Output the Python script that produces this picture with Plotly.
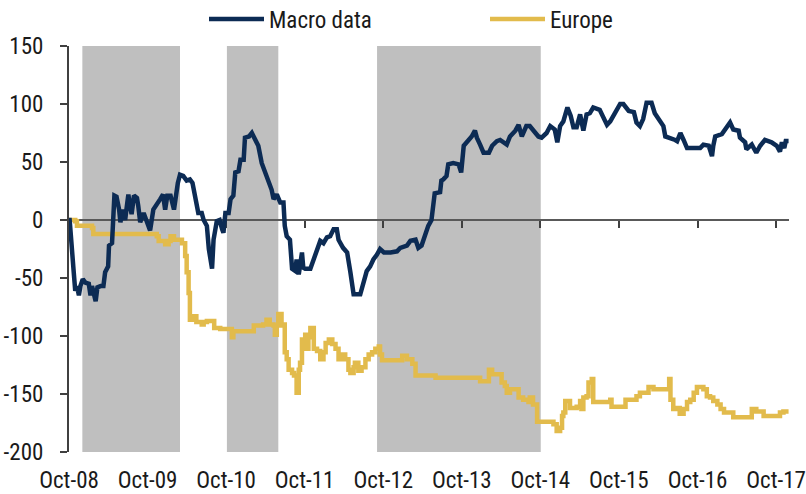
import plotly.graph_objects as go

# ---------------- data ----------------
macro_dates = [
 "2008-10-01","2008-10-04","2008-10-23","2008-10-30","2008-11-07","2008-11-16","2008-11-23","2008-12-04","2008-12-16",
 "2009-01-01","2009-01-09","2009-01-16","2009-02-02","2009-02-10","2009-02-25","2009-03-10","2009-03-18","2009-04-01",
 "2009-04-05","2009-04-19","2009-04-30","2009-05-10","2009-05-22","2009-05-28","2009-06-07","2009-06-19","2009-06-27",
 "2009-07-04","2009-07-12","2009-07-19","2009-07-30","2009-08-13","2009-08-19","2009-08-28","2009-09-13","2009-09-28",
 "2009-10-13","2009-10-28","2009-11-13","2009-11-29","2009-12-12","2009-12-22","2010-01-01","2010-01-16","2010-02-01",
 "2010-02-10","2010-02-19","2010-03-01","2010-03-16","2010-04-01","2010-04-16","2010-04-28","2010-05-10","2010-05-25",
 "2010-06-10","2010-06-19","2010-07-04","2010-07-13","2010-07-28","2010-08-04","2010-08-19","2010-09-01","2010-09-13",
 "2010-09-19","2010-09-28","2010-10-13","2010-10-22","2010-11-04","2010-11-13","2010-11-28","2010-12-07","2010-12-22",
 "2010-12-28","2011-01-16","2011-01-29","2011-02-14","2011-02-28","2011-03-16","2011-04-01","2011-04-16","2011-05-01",
 "2011-05-10","2011-05-25","2011-06-10","2011-06-25","2011-07-01","2011-07-10","2011-07-25","2011-08-04","2011-08-19",
 "2011-08-25","2011-09-04","2011-09-10","2011-09-19","2011-09-25","2011-10-04","2011-10-28","2011-11-13","2011-11-28",
 "2011-12-13","2011-12-28","2012-01-13","2012-01-28","2012-02-13","2012-02-28","2012-03-07","2012-03-28","2012-04-16",
 "2012-05-01","2012-05-16","2012-06-16","2012-07-01","2012-07-16","2012-08-01","2012-08-16","2012-09-01","2012-09-16",
 "2012-10-04","2012-11-04","2012-12-04","2012-12-19","2013-01-19","2013-02-04","2013-02-28","2013-03-13","2013-03-28",
 "2013-04-13","2013-04-28","2013-05-13","2013-05-28","2013-06-22","2013-06-28","2013-07-07","2013-07-22","2013-07-30",
 "2013-08-22","2013-09-16","2013-09-28","2013-10-10","2013-11-01","2013-11-16","2013-12-01","2013-12-10","2013-12-25",
 "2014-01-10","2014-02-04","2014-02-19","2014-03-13","2014-03-28","2014-04-28","2014-05-13","2014-06-07","2014-06-22",
 "2014-07-07","2014-07-28","2014-08-13","2014-08-28","2014-09-22","2014-10-07","2014-10-30","2014-11-16","2014-12-07",
 "2014-12-19","2015-01-01","2015-01-16","2015-02-04","2015-02-19","2015-03-04","2015-03-19","2015-04-04","2015-04-19",
 "2015-05-04","2015-05-19","2015-06-04","2015-07-04","2015-07-19","2015-08-07","2015-08-22","2015-09-07","2015-09-22",
 "2015-10-07","2015-10-22","2015-11-07","2015-11-16","2015-12-10","2015-12-22","2016-01-07","2016-01-22","2016-02-07",
 "2016-03-01","2016-03-16","2016-04-10","2016-04-25","2016-05-04","2016-05-25","2016-06-19","2016-06-28","2016-07-13",
 "2016-07-28","2016-08-13","2016-10-13","2016-10-28","2016-11-22","2016-12-07","2016-12-13","2016-12-22","2017-01-22",
 "2017-02-07","2017-03-01","2017-03-16","2017-04-10","2017-04-16","2017-05-10","2017-05-16","2017-06-10","2017-07-01",
 "2017-07-19","2017-08-10","2017-09-10","2017-10-04","2017-10-19","2017-10-28","2017-11-08","2017-11-15","2017-11-28",
]
macro_values = [
 0, 0, -45, -61, -57, -65, -57, -51, -54,
 -55, -65, -57, -70, -58, -57, -57, -45, -40,
 -22, -20, 21, 20, 9, -2, 9, 0, 12,
 22, 12, 5, 21, 19, 12, -2, 6, -2,
 -9, 9, 13, 18, 22, 9, 21, 21, 9,
 21, 32, 39, 38, 34, 35, 32, 18, 6,
 6, 0, -5, -25, -42, -17, -1, 0, -8,
 -11, 6, 6, 18, 21, 41, 42, 52, 52,
 71, 72, 75, 69, 64, 49, 41, 36, 26,
 18, 22, 15, 15, -5, -14, -17, -42, -44,
 -34, -47, -37, -28, -41, -42, -42, -34, -28,
 -18, -20, -15, -14, -8, -8, -17, -24, -28,
 -45, -64, -64, -55, -44, -40, -34, -30, -25,
 -28, -28, -27, -24, -22, -18, -17, -24, -22,
 -12, -5, 0, 23, 24, 34, 35, 38, 48,
 49, 48, 41, 64, 69, 72, 77, 71, 65,
 58, 58, 64, 68, 69, 65, 72, 77, 82,
 72, 81, 81, 77, 72, 71, 75, 81, 78,
 67, 81, 85, 97, 90, 80, 80, 91, 77,
 91, 92, 97, 95, 90, 82, 85, 90, 94,
 100, 100, 95, 94, 93, 84, 81, 87, 101,
 101, 92, 85, 81, 72, 71, 69, 68, 75,
 69, 62, 62, 65, 64, 55, 64, 72, 74,
 78, 84, 78, 77, 71, 67, 61, 65, 58,
 64, 69, 67, 64, 59, 67, 62, 68, 68,
]

europe_dates = [
 "2008-10-01","2008-10-30","2008-11-07","2009-01-16","2009-01-22","2009-11-13","2009-11-22","2009-12-16","2009-12-22",
 "2010-01-07","2010-01-16","2010-02-01","2010-02-25","2010-03-10","2010-03-25","2010-04-01","2010-04-10","2010-04-16",
 "2010-05-01","2010-05-16","2010-06-10","2010-06-19","2010-07-04","2010-07-25","2010-08-07","2010-09-04","2010-10-19",
 "2010-10-28","2010-11-04","2011-01-29","2011-02-07","2011-03-22","2011-04-07","2011-04-22","2011-05-10","2011-05-16",
 "2011-05-25","2011-06-01","2011-06-16","2011-06-25","2011-07-01","2011-07-10","2011-07-19","2011-08-04","2011-08-13",
 "2011-08-25","2011-09-04","2011-09-10","2011-09-19","2011-09-25","2011-10-04","2011-10-10","2011-10-19","2011-10-28",
 "2011-11-13","2011-11-28","2011-12-13","2011-12-28","2012-01-07","2012-01-22","2012-02-07","2012-02-22","2012-03-07",
 "2012-03-22","2012-04-07","2012-04-22","2012-05-01","2012-05-16","2012-05-22","2012-06-07","2012-06-22","2012-07-10",
 "2012-07-25","2012-08-10","2012-08-25","2012-09-10","2012-09-16","2012-09-25","2012-12-19","2012-12-28","2013-01-19",
 "2013-02-13","2013-02-28","2013-06-01","2013-12-10","2013-12-25","2014-01-25","2014-02-04","2014-02-19","2014-03-28",
 "2014-04-04","2014-04-19","2014-04-28","2014-05-13","2014-06-13","2014-06-22","2014-07-13","2014-08-07","2014-08-13",
 "2014-08-28","2014-09-16","2014-12-01","2014-12-16","2015-01-01","2015-01-10","2015-01-16","2015-01-25","2015-02-10",
 "2015-02-16","2015-03-19","2015-04-04","2015-04-10","2015-04-19","2015-05-04","2015-05-13","2015-05-28","2015-06-04",
 "2015-08-13","2015-08-22","2015-08-28","2015-10-22","2015-11-01","2015-12-22","2016-01-07","2016-02-01","2016-02-16",
 "2016-03-10","2016-05-10","2016-05-22","2016-05-28","2016-06-10","2016-06-25","2016-07-10","2016-07-28","2016-08-13",
 "2016-08-28","2016-09-13","2016-09-28","2016-10-28","2016-11-13","2016-11-28","2016-12-13","2017-01-01","2017-01-16",
 "2017-02-01","2017-03-16","2017-05-25","2017-06-10","2017-07-01","2017-08-04","2017-10-04","2017-10-19","2017-11-04",
 "2017-11-28",
]
europe_values = [
 0, -1, -5, -7, -12, -14, -18, -18, -21,
 -18, -14, -17, -17, -20, -31, -45, -63, -86,
 -83, -88, -90, -88, -87, -87, -93, -94, -94,
 -101, -96, -96, -91, -90, -86, -90, -91, -99,
 -91, -81, -91, -90, -114, -120, -129, -132, -134,
 -149, -129, -123, -103, -110, -99, -111, -101, -93,
 -111, -113, -120, -114, -106, -103, -107, -111, -120,
 -116, -120, -129, -132, -127, -123, -130, -127, -120,
 -116, -114, -111, -109, -116, -121, -121, -117, -120,
 -124, -134, -136, -136, -139, -139, -129, -133, -133,
 -140, -143, -149, -146, -146, -153, -155, -157, -153,
 -159, -174, -176, -182, -179, -169, -166, -156, -156,
 -162, -161, -156, -163, -153, -152, -140, -137, -157,
 -157, -155, -161, -161, -155, -152, -149, -149, -144,
 -146, -146, -137, -155, -163, -162, -167, -163, -157,
 -155, -149, -144, -146, -152, -153, -156, -159, -163,
 -166, -170, -170, -163, -165, -169, -169, -166, -165,
 -165,
]

shade_starts = ["2008-12-02", "2010-10-05", "2012-09-02"]
shade_ends = ["2010-03-01", "2011-06-01", "2014-10-03"]

y_tickvals = [-200, -150, -100, -50, 0, 50, 100, 150]
y_ticktext = ["-200", "-150", "-100", "-50", "0", "50", "100", "150"]

x_start, x_end = "2008-10-01", "2017-11-30"
y_min, y_max = -200, 150

NAVY = "#0C2B54"
GOLD = "#E2BB4C"
FONT = "Roboto Condensed, Liberation Sans Narrow, Arial Narrow, sans-serif"

fig = go.Figure()
fig.add_trace(go.Scatter(x=macro_dates, y=macro_values, name="Macro data", mode="lines",
                         line=dict(color=NAVY, width=4.5), xaxis="x2", yaxis="y"))
fig.add_trace(go.Scatter(x=europe_dates, y=europe_values, name="Europe", mode="lines",
                         line=dict(color=GOLD, width=4.5, shape="hv"), xaxis="x", yaxis="y"))

for s, e in zip(shade_starts, shade_ends):
    fig.add_shape(type="rect", xref="x", yref="paper", x0=s, x1=e, y0=0, y1=1,
                  fillcolor="#BFBFBF", line=dict(width=0), layer="below")

zero_pos = (0 - y_min) / (y_max - y_min)

fig.update_layout(
    width=806, height=494,
    margin=dict(l=69, r=17, t=46, b=42, autoexpand=False),
    paper_bgcolor="white", plot_bgcolor="white",
    font=dict(family=FONT, size=23, color="#1A1A1A"),
    showlegend=True,
    legend=dict(orientation="h", x=0.1875, xanchor="left", y=1.0665, yanchor="middle",
                entrywidth=211, itemwidth=55, bgcolor="rgba(0,0,0,0)",
                font=dict(family=FONT, size=23, color="#1A1A1A")),
    xaxis=dict(type="date", range=[x_start, x_end], showgrid=False, zeroline=False,
               showline=False, ticks="", tick0="2008-10-01", dtick="M12", tickformat="%b-%y",
               ticklabelstandoff=12),
    xaxis2=dict(type="date", overlaying="x", matches="x", anchor="free", position=zero_pos,
                showgrid=False, zeroline=False, showline=True, linecolor="#595959", linewidth=2,
                ticks="outside", ticklen=7, tickwidth=2, tickcolor="#404040",
                tick0="2008-10-01", dtick="M12", showticklabels=False, layer="below traces"),
    yaxis=dict(range=[y_min, y_max], showgrid=False, zeroline=False, showline=True,
               linecolor="#404040", linewidth=2, ticks="outside", ticklen=7, tickwidth=2,
               tickcolor="#404040", tickvals=y_tickvals, ticktext=y_ticktext,
               ticklabelstandoff=12),
)

fig.write_html("out.html", config={"displayModeBar": False},
               post_script="document.body.style.margin='0';document.body.style.padding='0';")
